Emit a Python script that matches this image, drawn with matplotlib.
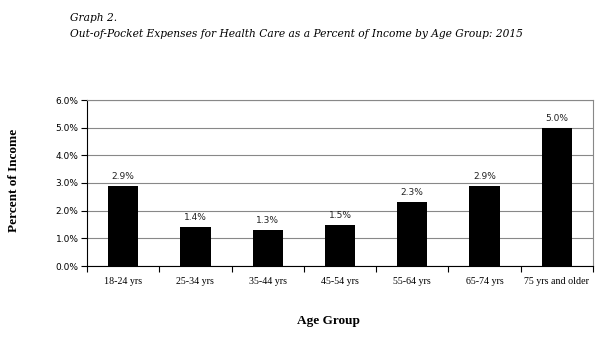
import matplotlib
matplotlib.use('Agg')
import matplotlib.pyplot as plt
from matplotlib.ticker import FuncFormatter, MultipleLocator

# data
age_groups = ['18-24 yrs', '25-34 yrs', '35-44 yrs', '45-54 yrs',
              '55-64 yrs', '65-74 yrs', '75 yrs and older']
pct_income = [2.9, 1.4, 1.3, 1.5, 2.3, 2.9, 5.0]

SERIF = ['Liberation Serif', 'DejaVu Serif']
GRID = '#888888'

fig = plt.figure(figsize=(6.05, 3.4), dpi=100)
fig.patch.set_facecolor('white')
ax = fig.add_axes([87 / 605, 1 - 266 / 340, (593 - 87) / 605, (266 - 100) / 340])

x = list(range(len(age_groups)))
ax.bar(x, pct_income, width=0.42, color='black', zorder=3)
for xi, v in zip(x, pct_income):
    ax.text(xi, v + 0.18, f'{v:.1f}%', ha='center', va='bottom', fontsize=6.5,
            family=['DejaVu Sans'], color='#222222')

ax.set_xlim(-0.5, len(age_groups) - 0.5)
ax.set_ylim(0, 6)
ax.yaxis.set_major_locator(MultipleLocator(1))
ax.yaxis.set_major_formatter(FuncFormatter(lambda v, _: f'{v:.1f}%'))
ax.grid(axis='y', color=GRID, lw=0.8, zorder=0)

ax.set_xticks([i - 0.5 for i in range(len(age_groups) + 1)])
ax.set_xticklabels([])
ax.set_xticks(x, minor=True)
ax.set_xticklabels(age_groups, minor=True, fontsize=7.2, family=SERIF)
ax.tick_params(axis='x', which='minor', length=0, pad=8)
ax.tick_params(axis='x', which='major', length=4, width=0.8, direction='out')
ax.tick_params(axis='y', length=4, width=0.8, labelsize=6.5, pad=2)
for lbl in ax.get_yticklabels():
    lbl.set_family(['DejaVu Sans'])

for s in ['left', 'bottom']:
    ax.spines[s].set_color('black')
    ax.spines[s].set_linewidth(0.8)
for s in ['top', 'right']:
    ax.spines[s].set_color(GRID)
    ax.spines[s].set_linewidth(0.8)

fig.text(70 / 605, 1 - 18 / 340, 'Graph 2.', fontsize=7.7, style='italic',
         family=['DejaVu Serif'], va='center', ha='left')
fig.text(70 / 605, 1 - 34 / 340,
         'Out-of-Pocket Expenses for Health Care as a Percent of Income by Age Group: 2015',
         fontsize=7.7, style='italic', family=['DejaVu Serif'], va='center', ha='left')

fig.text(14 / 605, 1 - 180 / 340, 'Percent of Income', rotation=90, fontsize=9.5,
         fontweight='bold', family=SERIF, ha='center', va='center')
fig.text(328 / 605, 1 - 321 / 340, 'Age Group', fontsize=9.5, fontweight='bold',
         family=SERIF, ha='center', va='center')

fig.savefig('out.png', dpi=100, facecolor='white')
plt.close(fig)
